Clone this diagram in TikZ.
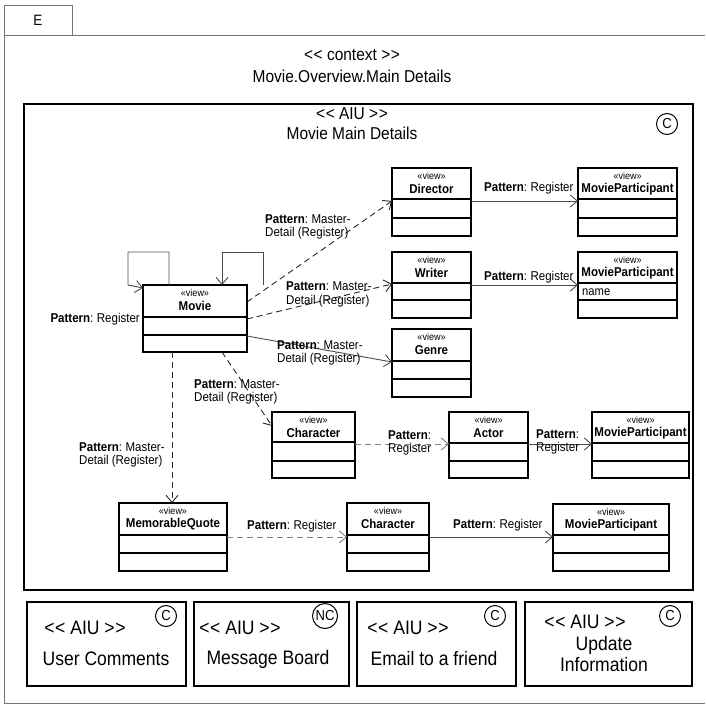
\documentclass[tikz,border=0pt]{standalone}
\usepackage{fontspec}
\setmainfont{Liberation Sans}[FakeStretch=0.9]
\usetikzlibrary{arrows.meta}
\newcommand\LLq{<\kern0.6pt<}
\newcommand\GGq{>\kern0.6pt>}
\tikzset{
  cls/.style={draw=black, line width=1.1pt, inner sep=0pt, outer sep=0pt, fill=white},
  sepl/.style={line width=1.1pt},
  stereo/.style={font=\fontsize{10}{10}\selectfont, inner sep=0pt},
  cname/.style={font=\fontsize{12.8}{14}\selectfont\bfseries, inner sep=0pt},
  attr/.style={font=\fontsize{12.5}{13}\selectfont, inner sep=0pt, anchor=west},
  lbl/.style={font=\fontsize{12.8}{13.5}\selectfont, align=left, anchor=west, inner sep=0pt},
  conn/.style={draw=black!70, line width=0.9pt, -{Straight Barb[length=7pt, width=12pt, line width=0.9pt]}},
  dconn/.style={conn, draw=black!85, dash pattern=on 6pt off 4pt},
  lconn/.style={conn, draw=black!50, dash pattern=on 6pt off 4pt},
  aiubox/.style={draw=black, line width=1.3pt, inner sep=0pt, outer sep=0pt},
  ttl/.style={font=\fontsize{17.2}{18}\selectfont, inner sep=0pt},
  btxt/.style={font=\fontsize{19.5}{21}\selectfont, inner sep=0pt, align=center},
  circ/.style={draw=black, line width=1pt, circle, minimum size=21pt, inner sep=0pt, font=\fontsize{14.5}{14}\selectfont},
  frame/.style={draw=black!55, line width=0.8pt}
}
% name, x1, y1, x2, y2, sep1, sep2, title
\newcommand{\uclass}[8]{%
  \node[cls, minimum width={(#4-#2)*1pt}, minimum height={(#5-#3)*1pt}] (#1) at ({(#2+#4)/2},{(#3+#5)/2}) {};
  \draw[sepl] (#2,#6) -- (#4,#6);
  \draw[sepl] (#2,#7) -- (#4,#7);
  \node[stereo] (#1st) at ({(#2+#4)/2},{#3+8}) {«view»};
  \node[cname] (#1nm) at ({(#2+#4)/2},{#3+21}) {#8};
}
\newcommand{\pat}[1]{\textbf{Pattern}:\hspace{3.5pt}#1}
\begin{document}
\begin{tikzpicture}[x=1pt,y=-1pt]
\useasboundingbox (0,0) rectangle (705,706);
% outer frame
\node[frame, minimum width=68pt, minimum height=30pt, inner sep=0pt, outer sep=0pt,
      font=\fontsize{15}{15}\selectfont] (etab) at (38,20) {E};
\draw[frame] (etab.south east) -- (705,35);
\draw[frame] (etab.south west) -- (4,703) -- (705,703);
\node[ttl] (ctx) at (352,55) {\LLq{} context \GGq};
\node[ttl] (ctxname) at (352,76) {Movie.Overview.Main Details};
% main AIU
\node[aiubox, minimum width=669pt, minimum height=486pt] (aiu) at (358.5,347) {};
\node[ttl] (aiust) at (352,114) {\LLq{} AIU \GGq};
\node[ttl] (aiuname) at (352,133) {Movie Main Details};
\node[circ] (aiuc) at (667,124) {C};
% classes
\uclass{movie}{143}{285}{247}{352}{317}{335}{Movie}
\uclass{director}{392}{168}{471}{236}{199}{218}{Director}
\uclass{mpa}{578}{168}{677}{236}{199}{218}{MovieParticipant}
\uclass{writer}{392}{252}{471}{318}{283}{300}{Writer}
\uclass{mpb}{578}{252}{677}{318}{283}{300}{MovieParticipant}
\node[attr] (mpbattr) at (582,292) {name};
\uclass{genre}{392}{329}{471}{397}{361}{379}{Genre}
\uclass{chara}{272}{412}{355}{478}{442}{461}{Character}
\uclass{actor}{449}{412}{528}{478}{443}{461}{Actor}
\uclass{mpc}{592}{412}{689}{478}{443}{461}{MovieParticipant}
\uclass{quote}{119}{503}{227}{571}{535}{553}{MemorableQuote}
\uclass{charb}{347}{503}{429}{571}{535}{553}{Character}
\uclass{mpd}{553}{504}{669}{571}{535}{553}{MovieParticipant}
% self loops on Movie
\draw[conn] (movie.north -| 169,0) -- (169,252) -- (128,252) -- (128,285) -- (movie.west |- 0,288);
\draw[conn] (movie.north -| 263,0) -- (263,252) -- (222,252) -- (movie.north -| 222,0);
\node[lbl, anchor=east] (lloop) at (140,319) {\pat{Register}};
% Movie connectors
\draw[dconn] (movie.east |- 0,302) -- (director.west |- 0,201);
\node[lbl] (ldir) at (265,227) {\pat{Master-}\\Detail (Register)};
\draw[dconn] (movie.east |- 0,319) -- (writer.west |- 0,284);
\node[lbl] (lwri) at (286,294.5) {\pat{Master-}\\Detail (Register)};
\draw[conn] (movie.east |- 0,336) -- (genre.west |- 0,362);
\node[lbl] (lgen) at (277,353) {\pat{Master-}\\Detail (Register)};
\draw[dconn] (movie.south -| 222,0) -- (chara.west |- 0,426);
\node[lbl] (lcha) at (194,392) {\pat{Master-}\\Detail (Register)};
\draw[dconn] (movie.south -| 172,0) -- (quote.north -| 172,0);
\node[lbl] (lquo) at (79,455) {\pat{Master-}\\Detail (Register)};
% other connectors
\draw[conn] (director.east |- 0,201) -- (mpa.west |- 0,201);
\node[lbl] (ldm) at (484,188) {\pat{Register}};
\draw[conn] (writer.east |- 0,285) -- (mpb.west |- 0,285);
\node[lbl] (lwm) at (484,277) {\pat{Register}};
\draw[lconn] (chara.east |- 0,444) -- (actor.west |- 0,444);
\node[lbl] (lca) at (388,443) {\textbf{Pattern}:\\Register};
\draw[conn] (actor.east |- 0,444) -- (mpc.west |- 0,444);
\node[lbl] (lam) at (536,442) {\textbf{Pattern}:\\Register};
\draw[lconn] (quote.east |- 0,537) -- (charb.west |- 0,537);
\node[lbl] (lqc) at (247,526) {\pat{Register}};
\draw[conn] (charb.east |- 0,537) -- (mpd.west |- 0,537);
\node[lbl] (lcm) at (453,525) {\pat{Register}};
% bottom AIU boxes
\node[aiubox, minimum width=159pt, minimum height=84pt] (ba) at (106.5,644) {};
\node[btxt] (bast) at (85,628) {\LLq{} AIU \GGq};
\node[btxt] (banm) at (106,659) {User Comments};
\node[circ] (bac) at (166,616) {C};
\node[aiubox, minimum width=155pt, minimum height=84pt] (bb) at (271.5,644) {};
\node[btxt] (bbst) at (240,628) {\LLq{} AIU \GGq};
\node[btxt] (bbnm) at (268,659) {Message Board};
\node[circ, minimum size=25pt] (bbc) at (325,616) {NC};
\node[aiubox, minimum width=159pt, minimum height=84pt] (bc) at (436.5,644) {};
\node[btxt] (bcst) at (408,628) {\LLq{} AIU \GGq};
\node[btxt] (bcnm) at (434,659) {Email to a friend};
\node[circ] (bcc) at (495,616) {C};
\node[aiubox, minimum width=167pt, minimum height=84pt] (bd) at (608.5,644) {};
\node[btxt] (bdst) at (585,622) {\LLq{} AIU \GGq};
\node[btxt] (bdnm) at (604,654) {Update\\Information};
\node[circ] (bdc) at (670,616) {C};
\end{tikzpicture}
\end{document}
